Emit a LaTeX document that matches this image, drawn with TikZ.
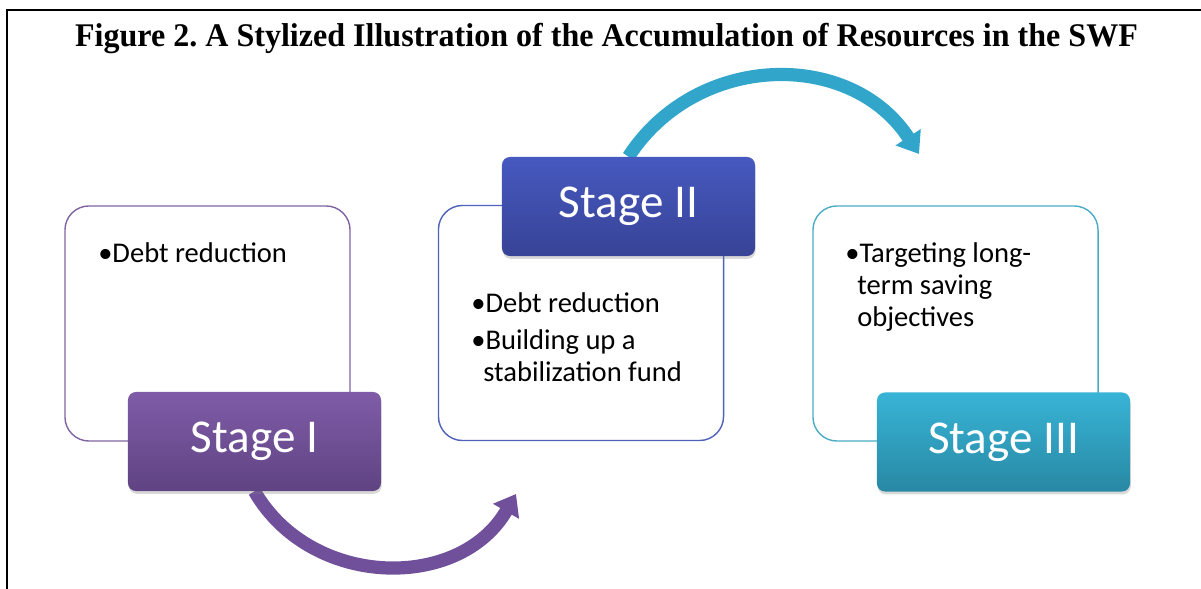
\documentclass[tikz,border=0pt]{standalone}
\usepackage{fontspec}
\setmainfont{Carlito}
\newfontfamily\titlefont{Liberation Serif}
\usetikzlibrary{arrows.meta, shadows, backgrounds}

\definecolor{purpleline}{RGB}{128,100,162}
\definecolor{purpletop}{RGB}{128,92,168}
\definecolor{purplebot}{RGB}{95,67,130}
\definecolor{blueline}{RGB}{79,97,184}
\definecolor{bluetop}{RGB}{71,89,192}
\definecolor{bluebot}{RGB}{55,67,150}
\definecolor{tealline}{RGB}{75,172,198}
\definecolor{tealtop}{RGB}{56,180,214}
\definecolor{tealbot}{RGB}{40,136,164}
\definecolor{purplearrow}{RGB}{112,80,154}
\definecolor{tealarrow}{RGB}{50,166,202}

\tikzset{
    textbox/.style={draw=#1, line width=1pt, rounded corners=0.6cm, fill=white,
        minimum width=7.125cm, minimum height=5.875cm},
    stagebox/.style 2 args={rounded corners=0.2cm, top color=#1, bottom color=#2,
        minimum width=6.325cm, minimum height=2.475cm, text=white,
        font=\fontsize{33.5}{40}\selectfont,
        drop shadow={opacity=0.3, shadow xshift=0.5pt, shadow yshift=-2pt}},
    item/.style={anchor=base west, inner sep=0, font=\fontsize{20.3}{24}\selectfont},
    stagearrow/.style={draw=#1, line width=0.33cm, -{Triangle[length=0.5cm, width=0.72cm]}}
}

\begin{document}
\begin{tikzpicture}[x=0.025cm, y=0.025cm]
    \useasboundingbox (0,0) rectangle (1201,589);
    \draw[line width=0.05cm] (6.7,0) -- (6.7,579) -- (1201,579);

    \node[anchor=base, inner sep=0, font=\titlefont\bfseries\fontsize{23.5}{28}\selectfont] (title) at (606.5,542)
        {\scalebox{0.97}[1]{Figure 2.\ A Stylized Illustration of the Accumulation of Resources in the SWF}};

    % text boxes
    \node[textbox=purpleline] (box1) at (207.5,265.5) {};
    \node[textbox=blueline] (box2) at (581,266) {};
    \node[textbox=tealline] (box3) at (955.5,265.5) {};

    % stage labels
    \node[stagebox={purpletop}{purplebot}] (lab1) at (254.5,147.5) {Stage I};
    \node[stagebox={bluetop}{bluebot}] (lab2) at (628.5,382.5) {Stage II};
    \node[stagebox={tealtop}{tealbot}] (lab3) at (1003.5,147) {Stage III};

    % bullet points
    \node[item] (i1) at (98,326) {\textbullet Debt reduction};
    \node[item] (i2a) at (471,276) {\textbullet Debt reduction};
    \node[item] (i2b) at (471,239) {\textbullet Building up a};
    \node[item] (i2c) at (483,207) {stabilization fund};
    \node[item] (i3a) at (845,326) {\textbullet Targeting long-};
    \node[item] (i3b) at (857,294) {term saving};
    \node[item] (i3c) at (857,262) {objectives};

    \coordinate (end1) at (516,95);
    \coordinate (end2) at (919,435);
    \begin{scope}[on background layer]
        \draw[stagearrow=purplearrow] (lab1.south) to[out=-60, in=-120, looseness=1.1] (end1);
        \draw[stagearrow=tealarrow] (lab2.north) to[out=57, in=123, looseness=1.1] (end2);
    \end{scope}
\end{tikzpicture}
\end{document}
